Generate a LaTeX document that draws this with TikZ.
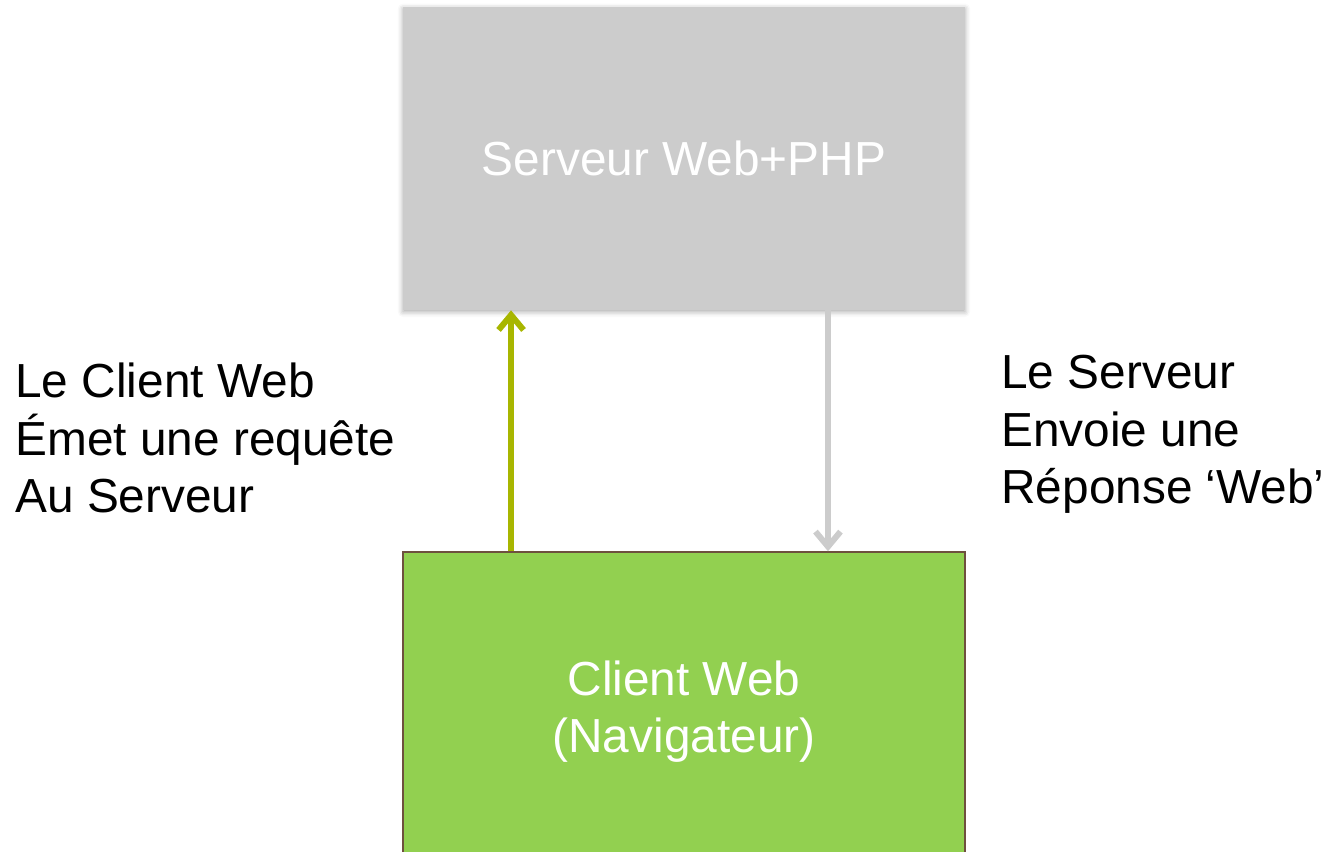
\documentclass[tikz,border=0pt]{standalone}
\usepackage{fontspec}
\setmainfont{Liberation Sans}
\usetikzlibrary{arrows.meta, positioning, shadows.blur}
\definecolor{ServerGray}{RGB}{204,204,204}
\definecolor{ClientGreen}{RGB}{146,208,80}
\definecolor{ClientBorder}{RGB}{110,80,62}
\definecolor{RequestOlive}{RGB}{168,182,0}

\begin{document}
\begin{tikzpicture}[x=0.02cm, y=-0.02cm,
          box/.style={rectangle, minimum width=11.24cm, text=white, align=center, inner sep=0pt, font=\fontsize{27.2}{32.6}\selectfont},
          server/.style={box, fill=ServerGray, minimum height=6.06cm, blur shadow={shadow xshift=0pt, shadow yshift=-1pt, shadow blur radius=3pt, shadow opacity=35}},
          client/.style={box, fill=ClientGreen, draw=ClientBorder, line width=1.2pt, minimum height=6.36cm},
          request/.style={-{Straight Barb[length=3mm, width=5mm]}, line width=3.4pt, RequestOlive},
          reply/.style={-{Straight Barb[length=3mm, width=5mm]}, line width=3.4pt, ServerGray},
          caption/.style={align=left, inner sep=0pt, font=\fontsize{27.2}{32.6}\selectfont}
        ]
          \useasboundingbox (0,0) rectangle (1327,851);

          \node (srv) [server] at (684,158.5) {Serveur Web+PHP};
          \node (cli) [client, below=4.82cm of srv] {Client Web\\(Navigateur)};

          \draw [request] ([xshift=-3.46cm]cli.north) -- ([xshift=-3.46cm]srv.south);
          \draw [reply] ([xshift=2.88cm]srv.south) -- ([xshift=2.88cm]cli.north);

          \node (reqtxt) [caption, anchor=north west] at (15,363) {Le Client Web\\Émet une requête\\Au Serveur};
          \node (reptxt) [caption, anchor=north west] at (1001,355) {Le Serveur\\Envoie une\\Réponse ‘Web’};
        \end{tikzpicture}
\end{document}
